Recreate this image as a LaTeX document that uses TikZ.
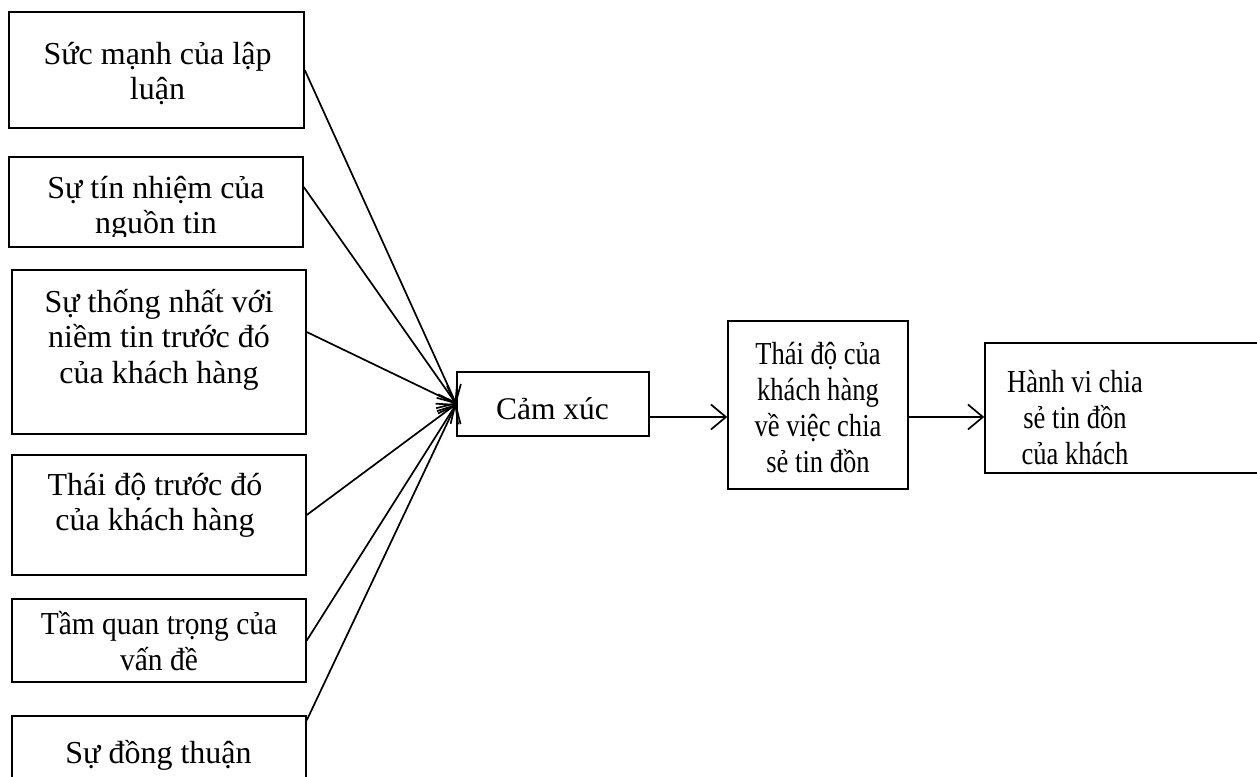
\documentclass[tikz,border=0pt]{standalone}
\usepackage{fontspec}
\setmainfont{Liberation Serif}
\newfontfamily\narrowfont[FakeStretch=0.83]{Liberation Serif}
\newfontfamily\semifont[FakeStretch=0.92]{Liberation Serif}
\usetikzlibrary{arrows.meta}
\newcommand\mlines[1]{\vtop{\halign{\hfil##\hfil\cr#1\crcr}}}
\tikzset{
  box/.style={draw, line width=1.5pt, rectangle, inner sep=0pt},
  txt/.style={anchor=base, inner sep=0pt, font=\fontsize{32}{35.5}\selectfont},
  txts/.style={txt, font=\narrowfont\fontsize{32}{36}\selectfont},
  arr/.style={line width=1.7pt, -{Straight Barb[length=15pt,width=25pt]}},
}
\begin{document}
\begin{tikzpicture}[x=1pt,y=-1pt]
\useasboundingbox (0,0) rectangle (1257,776);
\clip (0,0) rectangle (1257,776);
% left boxes
\node[box, minimum width=295pt, minimum height=116pt] (b1) at (156.5,70) {};
\node[box, minimum width=294pt, minimum height=90pt] (b2) at (156,202) {};
\node[box, minimum width=294pt, minimum height=164pt] (b3) at (159,352) {};
\node[box, minimum width=294pt, minimum height=120pt] (b4) at (159,515) {};
\node[box, minimum width=294pt, minimum height=83pt] (b5) at (159,640.5) {};
\node[box, minimum width=294pt, minimum height=84pt] (b6) at (159,758) {};
% middle / right boxes
\node[box, minimum width=192pt, minimum height=64pt] (cx) at (553,404) {};
\node[box, minimum width=180pt, minimum height=168pt] (td) at (818,405) {};
\node[box, minimum width=315pt, minimum height=130pt] (hv) at (1142.5,408) {};
% texts
\node[txt] (t1) at (157.5,64) {\mlines{Sức mạnh của lập\cr luận}};
\begin{scope}
\clip (9,157) rectangle (303,236);
\node[txt] (t2) at (156,198) {\mlines{Sự tín nhiệm của\cr nguồn tin}};
\end{scope}
\node[txt] (t3) at (159,312) {\mlines{Sự thống nhất với\cr niềm tin trước đó\cr của khách hàng}};
\node[txt] (t4) at (155,495) {\mlines{Thái độ trước đó\cr của khách hàng}};
\node[txt, font=\semifont\fontsize{32}{36}\selectfont] (t5) at (159,634) {\mlines{Tầm quan trọng của\cr vấn đề}};
\node[txt] (t6) at (158.5,763) {\mlines{Sự đồng thuận}};
\node[txt, font=\fontsize{31.5}{36}\selectfont] (t7) at (552.5,419) {\mlines{Cảm xúc}};
\node[txts] (t8) at (818,364) {\mlines{Thái độ của\cr khách hàng\cr về việc chia\cr sẻ tin đồn}};
\node[txts] (t9) at (1075,392) {\mlines{Hành vi chia\cr sẻ tin đồn\cr của khách}};
% connectors
\draw[arr] (b1.east) -- (cx.west);
\draw[arr] ([yshift=15pt]b2.east) -- (cx.west);
\draw[arr] ([yshift=20pt]b3.east) -- (cx.west);
\draw[arr] (b4.east) -- (cx.west);
\draw[arr] (b5.east) -- (cx.west);
\draw[arr] ([yshift=-5pt]b6.north east) -- (cx.west);
\coordinate (c1) at ([yshift=-13pt]cx.east);
\draw[arr] (c1) -- (c1 -| td.west);
\coordinate (c2) at ([yshift=-12pt]td.east);
\draw[arr] (c2) -- (c2 -| hv.west);
\end{tikzpicture}
\end{document}
